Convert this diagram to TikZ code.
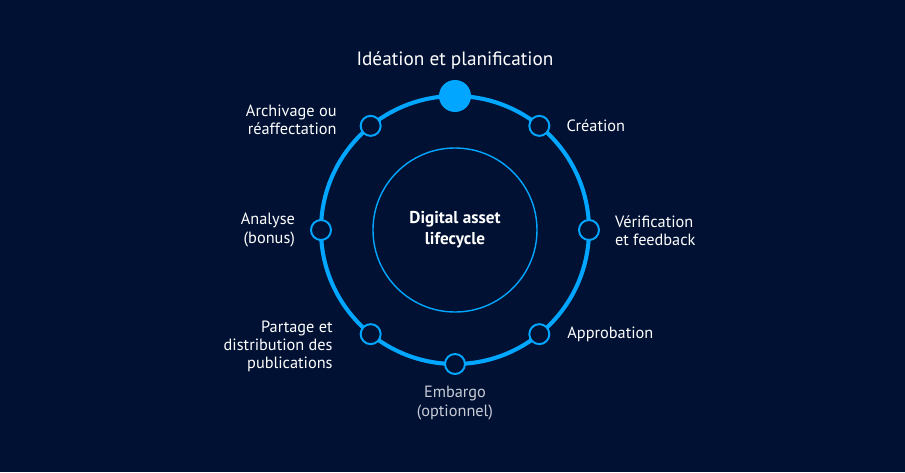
\documentclass[tikz,border=0pt]{standalone}
\usepackage{fontspec}
\setmainfont{PT Sans}
\usepackage{xcolor}
\usepackage{tikz}
\usetikzlibrary{positioning}
\definecolor{navybg}{RGB}{0, 17, 51}
\definecolor{ringblue}{RGB}{0, 166, 255}
\definecolor{softgray}{RGB}{200, 204, 214}

\begin{document}
\begin{tikzpicture}[
    stage/.style={circle, draw=ringblue, line width=1.4pt, fill=navybg,
                  minimum size=0.5cm, inner sep=0pt},
    stagetext/.style={text=white, inner sep=0pt,
                      font=\fontsize{11.6}{12.9}\selectfont}
]

% Background
\fill[navybg] (-11.375,-6.05) rectangle (11.25,5.75);
\useasboundingbox (-11.375,-6.05) rectangle (11.25,5.75);

% Outer ring and inner circle
\draw[ringblue, line width=2.9pt] (0,0) circle (3.35cm);
\draw[ringblue, line width=1pt] (0,0) circle (2.05cm);

% Stages on the ring
\node[circle, fill=ringblue, minimum size=0.8cm, inner sep=0pt] (ideation) at (90:3.35) {};
\node[stage] (creation) at (51:3.35) {};
\node[stage] (verification) at (0:3.35) {};
\node[stage] (approbation) at (-51:3.35) {};
\node[stage] (embargo) at (-90:3.35) {};
\node[stage] (partage) at (-129:3.35) {};
\node[stage] (analyse) at (180:3.35) {};
\node[stage] (archivage) at (129:3.35) {};

% Labels
\node[stagetext, font=\fontsize{13.7}{16}\selectfont, above=0.25cm of ideation] {Idéation et planification};
\node[stagetext, align=left, right=0.4cm of creation] {Création};
\node[stagetext, align=left, right=0.37cm of verification, yshift=-0.02cm] {Vérification\\et feedback};
\node[stagetext, align=left, right=0.42cm of approbation] {Approbation};
\node[stagetext, text=softgray, align=center, below=0.28cm of embargo] {Embargo\\(optionnel)};
\node[stagetext, align=right, left=0.67cm of partage, yshift=-0.3cm] {Partage et\\distribution des\\publications};
\node[stagetext, align=right, left=0.37cm of analyse] {Analyse\\(bonus)};
\node[stagetext, align=right, left=0.57cm of archivage, yshift=0.15cm] {Archivage ou\\réaffectation};

% Centre
\node[stagetext, align=center, font=\fontsize{12.2}{14.8}\selectfont\bfseries] (core) at (0,0) {Digital asset\\lifecycle};

\end{tikzpicture}
\end{document}
